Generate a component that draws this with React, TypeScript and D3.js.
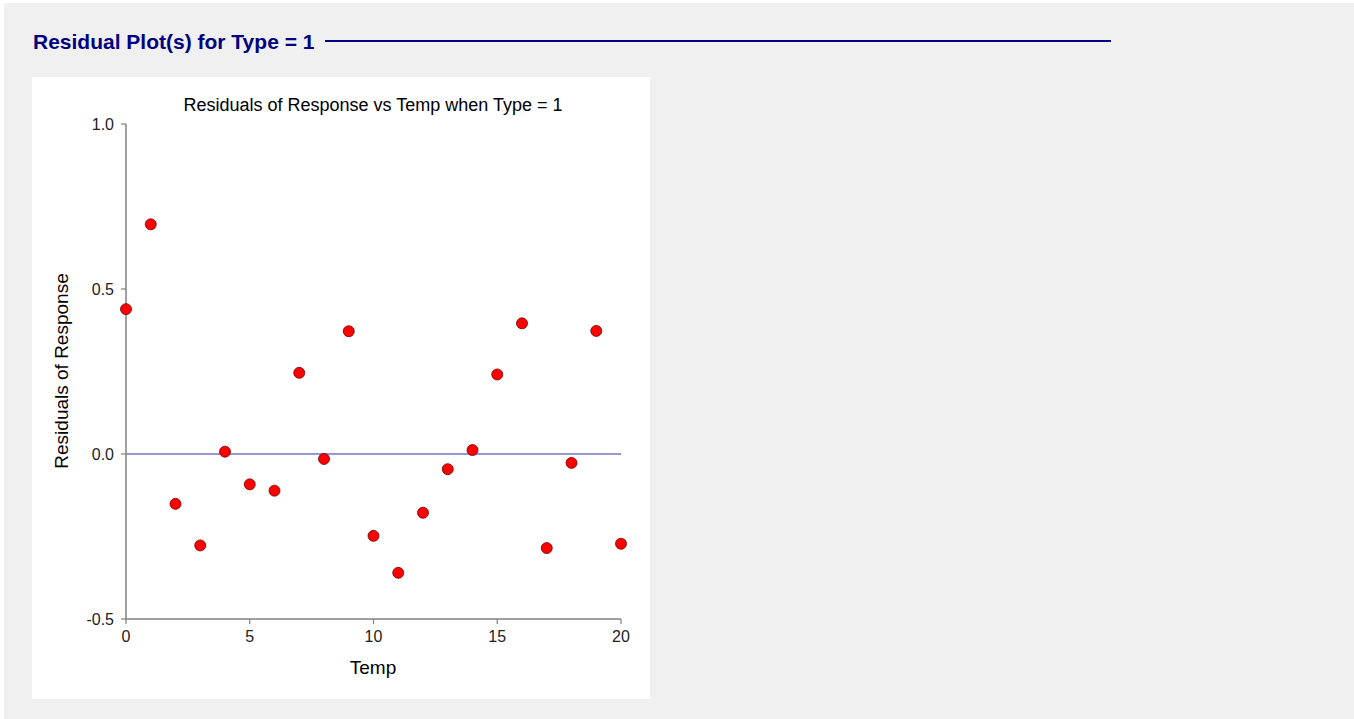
import React from "react";
import * as d3 from "d3";

const temps: number[] = [0, 1, 2, 3, 4, 5, 6, 7, 8, 9, 10, 11, 12, 13, 14, 15, 16, 17, 18, 19, 20];
const residuals: number[] = [
  0.439, 0.696, -0.151, -0.277, 0.007, -0.092, -0.111, 0.246, -0.015, 0.372,
  -0.248, -0.36, -0.178, -0.046, 0.012, 0.241, 0.396, -0.285, -0.027, 0.373, -0.272,
];
const xTicks: number[] = [0, 5, 10, 15, 20];
const yTicks: number[] = [-0.5, 0.0, 0.5, 1.0];
const yTickLabels: string[] = ["-0.5", "0.0", "0.5", "1.0"];

const W = 1354;
const H = 719;

export default function App() {
  const x = d3.scaleLinear().domain([0, 20]).range([126, 621]);
  const y = d3.scaleLinear().domain([-0.5, 1.0]).range([619, 124]);
  const font = "Arial, 'Liberation Sans', sans-serif";
  const axisColor = "#808080";
  return (
    <svg
      width={W}
      height={H}
      style={{ position: "absolute", left: 0, top: 0, display: "block" }}
      fontFamily={font}
    >
      <rect x={0} y={0} width={W} height={H} fill="#ffffff" />
      <rect x={4} y={3} width={W - 4} height={H - 3} fill="#f0f0f0" />
      <text x={33} y={49} fontSize={21} fontWeight="bold" fill="#000080">
        Residual Plot(s) for Type = 1
      </text>
      <line x1={325} x2={1111} y1={41} y2={41} stroke="#000080" strokeWidth={2} />
      <rect x={32} y={77} width={618} height={622} fill="#ffffff" />
      <text x={373} y={111} fontSize={18} textAnchor="middle" fill="#000">
        Residuals of Response vs Temp when Type = 1
      </text>
      {/* zero reference line */}
      <line x1={x(0)} x2={x(20)} y1={y(0)} y2={y(0)} stroke="#7474c4" strokeWidth={1.3} />
      {/* axes */}
      <line x1={x(0)} x2={x(0)} y1={y(1)} y2={y(-0.5)} stroke={axisColor} strokeWidth={1.5} />
      <line x1={x(0)} x2={x(20)} y1={y(-0.5)} y2={y(-0.5)} stroke={axisColor} strokeWidth={1.5} />
      {yTicks.map((t, i) => (
        <g key={"y" + t}>
          <line x1={x(0) - 5} x2={x(0)} y1={y(t)} y2={y(t)} stroke={axisColor} strokeWidth={1.2} />
          <text x={x(0) - 12} y={y(t)} dy="0.35em" fontSize={16} textAnchor="end" fill="#222">
            {yTickLabels[i]}
          </text>
        </g>
      ))}
      {xTicks.map((t) => (
        <g key={"x" + t}>
          <line x1={x(t)} x2={x(t)} y1={y(-0.5)} y2={y(-0.5) + 5} stroke={axisColor} strokeWidth={1.2} />
          <text x={x(t)} y={y(-0.5) + 23} fontSize={16} textAnchor="middle" fill="#222">
            {t}
          </text>
        </g>
      ))}
      <text x={373} y={674} fontSize={19} textAnchor="middle" fill="#000">
        Temp
      </text>
      <text
        transform={`translate(68, ${371}) rotate(-90)`}
        fontSize={19}
        textAnchor="middle"
        fill="#000"
      >
        Residuals of Response
      </text>
      {temps.map((t, i) => (
        <circle key={i} cx={x(t)} cy={y(residuals[i])} r={5.5} fill="#ff0000" stroke="#700000" strokeWidth={0.8} />
      ))}
    </svg>
  );
}
